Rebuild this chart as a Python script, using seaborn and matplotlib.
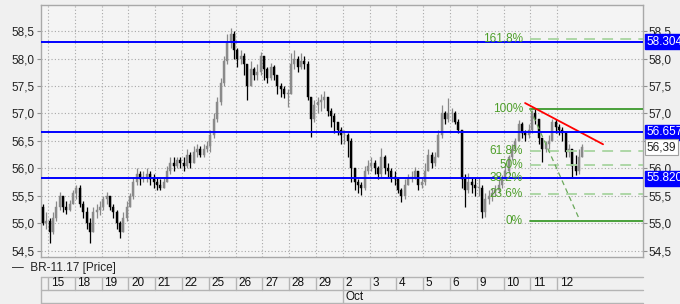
import matplotlib
matplotlib.use("Agg")
import matplotlib.pyplot as plt
import matplotlib.transforms as mtrans
import numpy as np
import pandas as pd
import seaborn as sns

# ---------------- data ----------------
day_labels = ["15", "18", "19", "20", "21", "22", "25", "26", "27", "28", "29",
              "2", "3", "4", "5", "6", "9", "10", "11", "12"]
month_label = "Oct"
month_start_day = 11          # index of "2" in day_labels
candles_per_day = 8
partial_first_day = 2         # candles of the 14th shown before the 15th

first_open = 55.30
close = [55.00, 55.05,
         54.85, 55.10, 55.30, 55.50, 55.30, 55.25, 55.35, 55.55,
         55.65, 55.35, 55.20, 55.00, 54.85, 55.20, 55.25, 55.30,
         55.45, 55.50, 55.30, 55.20, 55.00, 54.85, 55.10, 55.30,
         55.50, 55.75, 55.90, 55.80, 55.85, 55.90, 55.80, 55.75,
         55.70, 55.65, 55.75, 55.95, 56.10, 56.05, 56.15, 56.10,
         56.05, 56.25, 56.10, 56.30, 56.35, 56.25, 56.35, 56.40,
         56.60, 56.90, 57.20, 57.55, 57.95, 58.30, 58.45, 58.15,
         58.00, 58.05, 57.90, 57.50, 57.80, 57.70, 57.75, 58.05,
         57.80, 57.65, 57.85, 57.70, 57.50, 57.45, 57.35, 57.35,
         57.90, 58.00, 57.85, 57.95, 57.90, 57.30, 56.90, 57.15,
         57.20, 57.25, 57.30, 57.05, 56.95, 56.85, 56.70, 56.60,
         56.60, 56.50, 56.00, 55.75, 55.70, 55.65, 55.95, 56.05,
         56.10, 56.00, 55.90, 56.20, 56.00, 55.95, 55.85, 55.80,
         55.60, 55.50, 55.70, 55.80, 55.85, 55.95, 55.70, 55.75,
         55.95, 56.25, 56.10, 56.20, 56.60, 57.00, 56.90, 57.00,
         57.00, 56.85, 56.70, 55.80, 55.60, 55.75, 55.70, 55.65,
         55.65, 55.20, 55.45, 55.50, 55.55, 55.60, 55.70, 55.80,
         55.95, 56.20, 56.35, 56.50, 56.80, 56.65, 56.60, 56.70,
         57.00, 56.90, 56.55, 56.35, 56.45, 56.50, 56.85, 56.75,
         56.70, 56.65, 56.30, 56.35, 56.05, 55.95, 56.20, 56.39]
high = [55.35, 55.20,
        55.10, 55.20, 55.40, 55.57, 55.50, 55.40, 55.42, 55.60,
        55.70, 55.70, 55.40, 55.30, 55.10, 55.30, 55.35, 55.40,
        55.50, 55.57, 55.50, 55.35, 55.25, 55.05, 55.20, 55.40,
        55.55, 55.85, 56.00, 55.95, 55.95, 56.00, 55.95, 55.90,
        55.85, 55.80, 55.85, 56.05, 56.20, 56.20, 56.20, 56.20,
        56.20, 56.35, 56.30, 56.40, 56.45, 56.40, 56.45, 56.50,
        56.70, 57.00, 57.30, 57.65, 58.05, 58.45, 58.55, 58.50,
        58.20, 58.15, 58.10, 57.90, 57.95, 57.85, 57.90, 58.12,
        57.95, 57.85, 57.92, 57.88, 57.70, 57.55, 57.50, 57.45,
        58.10, 58.15, 58.05, 58.10, 58.05, 57.95, 57.30, 57.25,
        57.30, 57.35, 57.40, 57.30, 57.10, 57.00, 56.85, 56.75,
        56.70, 56.65, 56.55, 55.90, 55.80, 55.75, 56.05, 56.15,
        56.20, 56.15, 56.05, 56.37, 56.25, 56.10, 56.00, 55.95,
        55.75, 55.65, 55.80, 55.90, 55.95, 56.03, 55.95, 55.85,
        56.10, 56.35, 56.30, 56.30, 56.70, 57.15, 57.05, 57.28,
        57.10, 57.05, 56.90, 56.70, 55.90, 55.92, 55.85, 55.85,
        55.85, 55.70, 55.55, 55.60, 55.65, 55.70, 55.80, 55.88,
        56.05, 56.25, 56.45, 56.55, 56.88, 56.85, 56.70, 56.80,
        57.07, 57.10, 56.90, 56.55, 56.50, 56.60, 56.90, 56.90,
        56.80, 56.75, 56.50, 56.45, 56.30, 56.25, 56.35, 56.45]
low = [54.97, 54.90,
       54.65, 54.80, 55.05, 55.25, 55.20, 55.18, 55.22, 55.35,
       55.45, 55.30, 55.10, 54.90, 54.65, 54.85, 55.10, 55.15,
       55.25, 55.35, 55.25, 55.10, 54.90, 54.74, 54.85, 55.05,
       55.30, 55.45, 55.70, 55.70, 55.75, 55.75, 55.70, 55.65,
       55.60, 55.60, 55.65, 55.75, 55.90, 55.95, 56.00, 56.00,
       55.95, 56.00, 56.00, 56.10, 56.20, 56.20, 56.20, 56.30,
       56.30, 56.55, 56.85, 57.15, 57.50, 57.90, 58.20, 58.00,
       57.85, 57.90, 57.70, 57.25, 57.55, 57.60, 57.60, 57.70,
       57.60, 57.55, 57.60, 57.60, 57.35, 57.30, 57.28, 57.12,
       57.35, 57.80, 57.75, 57.80, 57.80, 57.25, 56.57, 56.85,
       57.00, 57.05, 57.10, 56.95, 56.75, 56.65, 56.60, 56.45,
       56.45, 56.20, 55.75, 55.60, 55.55, 55.52, 55.60, 55.90,
       55.95, 55.90, 55.80, 55.85, 55.90, 55.85, 55.75, 55.70,
       55.55, 55.39, 55.45, 55.70, 55.75, 55.80, 55.61, 55.65,
       55.70, 55.95, 56.00, 56.05, 56.20, 56.55, 56.80, 56.85,
       56.85, 56.80, 56.65, 55.65, 55.30, 55.55, 55.55, 55.50,
       55.50, 55.10, 55.12, 55.35, 55.40, 55.50, 55.55, 55.65,
       55.80, 55.90, 56.15, 56.30, 56.50, 56.55, 56.50, 56.55,
       56.65, 56.80, 56.45, 56.12, 56.30, 56.35, 56.50, 56.65,
       56.60, 56.50, 56.20, 56.20, 55.85, 55.88, 55.90, 56.25]

levels = [58.3042, 56.6574, 55.8204]
level_labels = ["58.3042", "56.6574", "55.8204"]
last_price = 56.39
last_label = "56,39"

fib_low, fib_high = 55.05, 57.09
fib_pcts = [0, 23.6, 38.2, 50, 61.8, 100, 161.8]
fib_labels = ["0%", "23.6%", "38.2%", "50%", "61.8%", "100%", "161.8%"]
fib_x0 = 17.98          # start of fib lines (day units)
fib_label_x = 17.72
fib_diag_x = [17.98, 19.85]
fib_diag_y = [57.09, 55.05]
trend_x = [17.80, 20.71]
trend_y = [57.19, 56.44]

yticks = [54.5, 55.0, 55.5, 56.0, 56.5, 57.0, 57.5, 58.0, 58.5]
series_name = "BR-11.17 [Price]"

# ---------------- style ----------------
sns.set_style("white")
plt.rcParams['font.family'] = ['Liberation Sans', 'DejaVu Sans']
plt.rcParams['font.size'] = 8

W, H = 680, 304
fig = plt.figure(figsize=(W / 100, H / 100), dpi=100, facecolor="#f0f0f0")

L, R, T, B = 40.5, 643, 5, 257
ax = fig.add_axes([L / W, 1 - B / H, (R - L) / W, (B - T) / H], facecolor="#f4f4f4")

# candles
n = len(close)
opens = [first_open] + close[:-1]
pos = (np.arange(n) - partial_first_day + 0.5) / candles_per_day
df = pd.DataFrame({"x": pos, "open": opens, "close": close, "high": high, "low": low})
df["up"] = df["close"] >= df["open"]
df["top"] = df[["open", "close", "high"]].max(axis=1)
df["bot"] = df[["open", "close", "low"]].min(axis=1)

for up, color in [(True, "#8a8a8a"), (False, "#000000")]:
    d = df[df["up"] == up]
    ax.vlines(d["x"], d["bot"], d["top"], color=color, lw=0.9, zorder=3)
    body_b = d[["open", "close"]].min(axis=1)
    body_h = (d["close"] - d["open"]).abs().clip(lower=0.015)
    ax.bar(d["x"], body_h, bottom=body_b, width=0.075, color=color,
           edgecolor=color, lw=0.3, zorder=4)

# blue horizontal levels (drawn above fib lines)
for lv in levels:
    ax.axhline(lv, color="#0000ff", lw=1.4, zorder=8)

# fibonacci
fib_green = "#4d9e2a"
xmax_lim = 22.2
for p, lab in zip(fib_pcts, fib_labels):
    yv = fib_low + p / 100 * (fib_high - fib_low)
    if p in (0, 100):
        ax.plot([fib_x0, xmax_lim], [yv, yv], color="#3c9a2c", lw=1.3, zorder=6)
    else:
        ax.plot([fib_x0, xmax_lim], [yv, yv], color="#a8d4a0", lw=1.3,
                ls=(0, (6, 4)), zorder=6)
    ax.text(fib_label_x, yv, lab, color=fib_green, ha="right", va="center",
            fontsize=8.5, zorder=9)

diag = pd.DataFrame({"x": fib_diag_x, "y": fib_diag_y})
sns.lineplot(data=diag, x="x", y="y", ax=ax, color="#6aa85a", lw=0.9,
             linestyle=(0, (4, 3)), zorder=6)
trend = pd.DataFrame({"x": trend_x, "y": trend_y})
sns.lineplot(data=trend, x="x", y="y", ax=ax, color="#ff0000", lw=1.3, zorder=7)

# axes setup
ax.set_xlim(-0.28, xmax_lim)
ax.set_ylim(54.39, 58.973)
ax.set_xlabel("")
ax.set_ylabel("")
ax.set_xticks(np.arange(len(day_labels)))
ax.set_yticks(yticks)
ax.set_yticklabels([f"{v:.1f}".replace(".", ",") for v in yticks])
ax.tick_params(axis="x", bottom=False, labelbottom=False)
ax.tick_params(axis="y", left=True, right=True, labelleft=True, labelright=True,
               length=3, width=0.8, color="#909090", pad=1, labelsize=8.5,
               labelcolor="#222222")
ax.grid(True, color="#a8a8a8", lw=0.8, ls=(0, (1, 2)))
for s in ax.spines.values():
    s.set_color("#a8a8a8")
    s.set_linewidth(1.0)

# value boxes on right axis
tr = mtrans.blended_transform_factory(ax.transAxes, ax.transData)
for lv, lab in zip(levels, level_labels):
    ax.text(1.006, lv, lab, transform=tr, ha="left", va="center", color="white",
            fontsize=8.5, zorder=10, clip_on=False,
            bbox=dict(boxstyle="square,pad=0.12", fc="#0000ff", ec="#0000ff"))
ax.text(1.006, last_price, last_label, transform=tr, ha="left", va="center",
        color="#222222", fontsize=8.5, zorder=10, clip_on=False,
        bbox=dict(boxstyle="square,pad=0.15", fc="white", ec="#a0a0a0", lw=0.8))

# legend line
fig.text(12 / W, 1 - 268 / H, "—  " + series_name, ha="left", va="center",
         fontsize=8.5, color="#222222")

# date axis
dax = fig.add_axes([L / W, 1 - 303 / H, (R - L) / W, 26 / H], facecolor="#f0f0f0")
dax.set_xlim(ax.get_xlim())
dax.set_ylim(0, 2)
dax.axis("off")
line_c = "#b4b4b4"
x0 = ax.get_xlim()[0]
dax.plot([x0, xmax_lim], [2, 2], color=line_c, lw=1, clip_on=False)
dax.plot([x0, xmax_lim], [1, 1], color=line_c, lw=1, clip_on=False)
dax.plot([x0, xmax_lim], [0, 0], color=line_c, lw=1, clip_on=False)
dax.plot([x0, x0], [0, 2], color=line_c, lw=1, clip_on=False)
for i, lab in enumerate(day_labels):
    dax.plot([i, i], [1, 2], color=line_c, lw=1)
    dax.text(i + 0.1, 1.5, lab, ha="left", va="center", fontsize=8.5, color="#111111")
dax.plot([month_start_day, month_start_day], [0, 1], color=line_c, lw=1)
dax.text(month_start_day + 0.1, 0.5, month_label, ha="left", va="center",
         fontsize=8.5, color="#111111")

fig.savefig("out.png", dpi=100, facecolor=fig.get_facecolor())
